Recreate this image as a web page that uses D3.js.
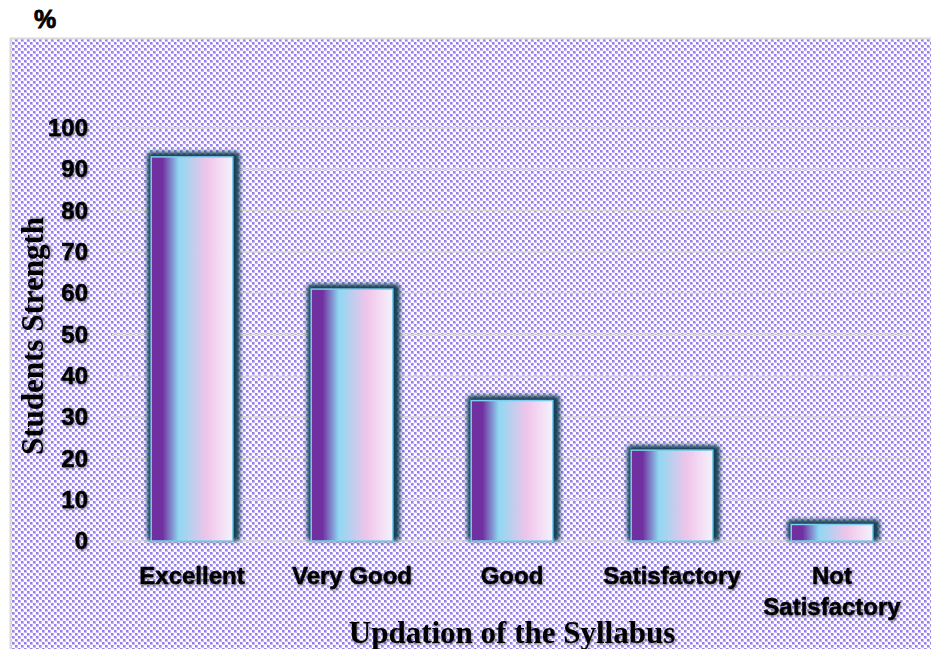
<!DOCTYPE html>
<html>
<head>
  <meta charset="utf-8">
  <title>Updation of the Syllabus</title>
  <script src="https://d3js.org/d3.v7.min.js"></script>
  <style>
    body { margin: 0; background: #fff; overflow: hidden; }
    svg { display: block; }
  </style>
</head>
<body>
  <script>
// chart data
var categories = ['Excellent', 'Very Good', 'Good', 'Satisfactory', 'Not Satisfactory'];
var values = [93, 61, 34, 22, 4];
var yTicks = [0, 10, 20, 30, 40, 50, 60, 70, 80, 90, 100];

var width = 931,
    height = 649;

var svg = d3.select('body')
  .append('svg')
  .attr('width', width)
  .attr('height', height);

var defs = svg.append('defs');

// checkered background fill (purple squares, white crosses)
var pat = defs.append('pattern')
  .attr('id', 'checks')
  .attr('width', 6)
  .attr('height', 6)
  .attr('patternUnits', 'userSpaceOnUse');
pat.append('rect').attr('width', 6).attr('height', 6).attr('fill', '#ffffff');
[[0, 0], [3, 3]].forEach(function(p) {
  pat.append('rect').attr('x', p[0]).attr('y', p[1]).attr('width', 3).attr('height', 3).attr('fill', '#c4b6f2');
  pat.append('rect').attr('x', p[0]).attr('y', p[1]).attr('width', 2).attr('height', 2).attr('fill', '#987ee6');
});

// bar gradient, left to right
var grad = defs.append('linearGradient')
  .attr('id', 'barGrad')
  .attr('x1', '0%').attr('x2', '100%')
  .attr('y1', '0%').attr('y2', '0%');
grad.append('stop').attr('offset', '0%').attr('stop-color', '#7030a0');
grad.append('stop').attr('offset', '14%').attr('stop-color', '#7030a0');
grad.append('stop').attr('offset', '34%').attr('stop-color', '#8fd8f2');
grad.append('stop').attr('offset', '68%').attr('stop-color', '#f0c4ea');
grad.append('stop').attr('offset', '100%').attr('stop-color', '#f6f2fb');

// dark glow behind bars
var glow = defs.append('filter')
  .attr('id', 'glow')
  .attr('x', '-30%').attr('y', '-30%')
  .attr('width', '160%').attr('height', '160%');
glow.append('feGaussianBlur').attr('stdDeviation', 2.2);

// soft text shadow
var tshadow = defs.append('filter')
  .attr('id', 'tshadow')
  .attr('x', '-10%').attr('y', '-20%')
  .attr('width', '120%').attr('height', '140%');
tshadow.append('feDropShadow')
  .attr('dx', 1).attr('dy', 1.5)
  .attr('stdDeviation', 1.2)
  .attr('flood-color', '#000')
  .attr('flood-opacity', 0.4);

// chart area
svg.append('rect')
  .attr('x', 10.5)
  .attr('y', 38.5)
  .attr('width', 925)
  .attr('height', 620)
  .attr('fill', 'url(#checks)')
  .attr('stroke', '#d9d9d9')
  .attr('stroke-width', 2);

var x = d3.scaleBand()
  .domain(categories)
  .range([112, 912])
  .paddingInner(0.49)
  .paddingOuter(0.245);

var y = d3.scaleLinear()
  .domain([0, 100])
  .range([541, 128]);

// gridlines
svg.append('g')
  .selectAll('line')
  .data(yTicks)
  .enter()
  .append('line')
  .attr('x1', 112)
  .attr('x2', 912)
  .attr('y1', function(d) { return y(d); })
  .attr('y2', function(d) { return y(d); })
  .attr('stroke', '#d6d6d6')
  .attr('stroke-width', 1.5);

// y tick labels
var yAxis = svg.append('g')
  .attr('transform', 'translate(88,0)')
  .call(d3.axisLeft(y).tickValues(yTicks).tickSize(0).tickPadding(0));
yAxis.select('.domain').remove();
yAxis.selectAll('text')
  .attr('font-family', 'Liberation Sans, Arial, sans-serif')
  .attr('font-weight', 'bold')
  .attr('font-size', 24)
  .attr('stroke', '#000')
  .attr('stroke-width', 0.5)
  .attr('fill', '#000')
  .attr('filter', 'url(#tshadow)');

var bars = svg.append('g');

// shadow/glow
bars.selectAll('rect.glow')
  .data(values)
  .enter()
  .append('rect')
  .attr('class', 'glow')
  .attr('x', function(d, i) { return x(categories[i]) - 4; })
  .attr('y', function(d) { return y(d) - 5; })
  .attr('width', x.bandwidth() + 11)
  .attr('height', function(d) { return y(0) - y(d) + 5; })
  .attr('rx', 4)
  .attr('fill', '#123f55')
  .attr('filter', 'url(#glow)');

bars.selectAll('rect.bar')
  .data(values)
  .enter()
  .append('rect')
  .attr('class', 'bar')
  .attr('x', function(d, i) { return x(categories[i]); })
  .attr('y', function(d) { return y(d); })
  .attr('width', x.bandwidth())
  .attr('height', function(d) { return y(0) - y(d); })
  .attr('fill', 'url(#barGrad)')
  .attr('stroke', '#7ccdee')
  .attr('stroke-width', 1.5);

// x labels
var xl = svg.append('g');
categories.forEach(function(c) {
  var words = c === 'Not Satisfactory' ? ['Not', 'Satisfactory'] : [c];
  var t = xl.append('text')
    .attr('x', x(c) + x.bandwidth() / 2)
    .attr('y', 584)
    .attr('text-anchor', 'middle')
    .attr('font-family', 'Liberation Sans, Arial, sans-serif')
    .attr('font-weight', 'bold')
    .attr('font-size', 24)
    .attr('stroke', '#000')
    .attr('stroke-width', 0.5)
    .attr('fill', '#000')
    .attr('filter', 'url(#tshadow)');
  words.forEach(function(w, k) {
    t.append('tspan')
      .attr('x', x(c) + x.bandwidth() / 2)
      .attr('dy', k === 0 ? 0 : 31)
      .text(w);
  });
});

// titles
svg.append('text')
  .attr('x', 512)
  .attr('y', 643)
  .attr('text-anchor', 'middle')
  .attr('font-family', 'Liberation Serif, Times New Roman, serif')
  .attr('font-weight', 'bold')
  .attr('font-size', 31)
  .attr('fill', '#000')
  .attr('filter', 'url(#tshadow)')
  .text('Updation of the Syllabus');

svg.append('text')
  .attr('transform', 'translate(43,336) rotate(-90)')
  .attr('text-anchor', 'middle')
  .attr('font-family', 'Liberation Serif, Times New Roman, serif')
  .attr('font-weight', 'bold')
  .attr('font-size', 31)
  .attr('fill', '#000')
  .attr('filter', 'url(#tshadow)')
  .text('Students Strength');

svg.append('text')
  .attr('x', 34)
  .attr('y', 28)
  .attr('font-family', 'Liberation Sans, Arial, sans-serif')
  .attr('font-weight', 'bold')
  .attr('font-size', 25)
  .attr('stroke', '#000')
  .attr('stroke-width', 0.8)
  .attr('fill', '#000')
  .text('%');
  </script>
</body>
</html>
